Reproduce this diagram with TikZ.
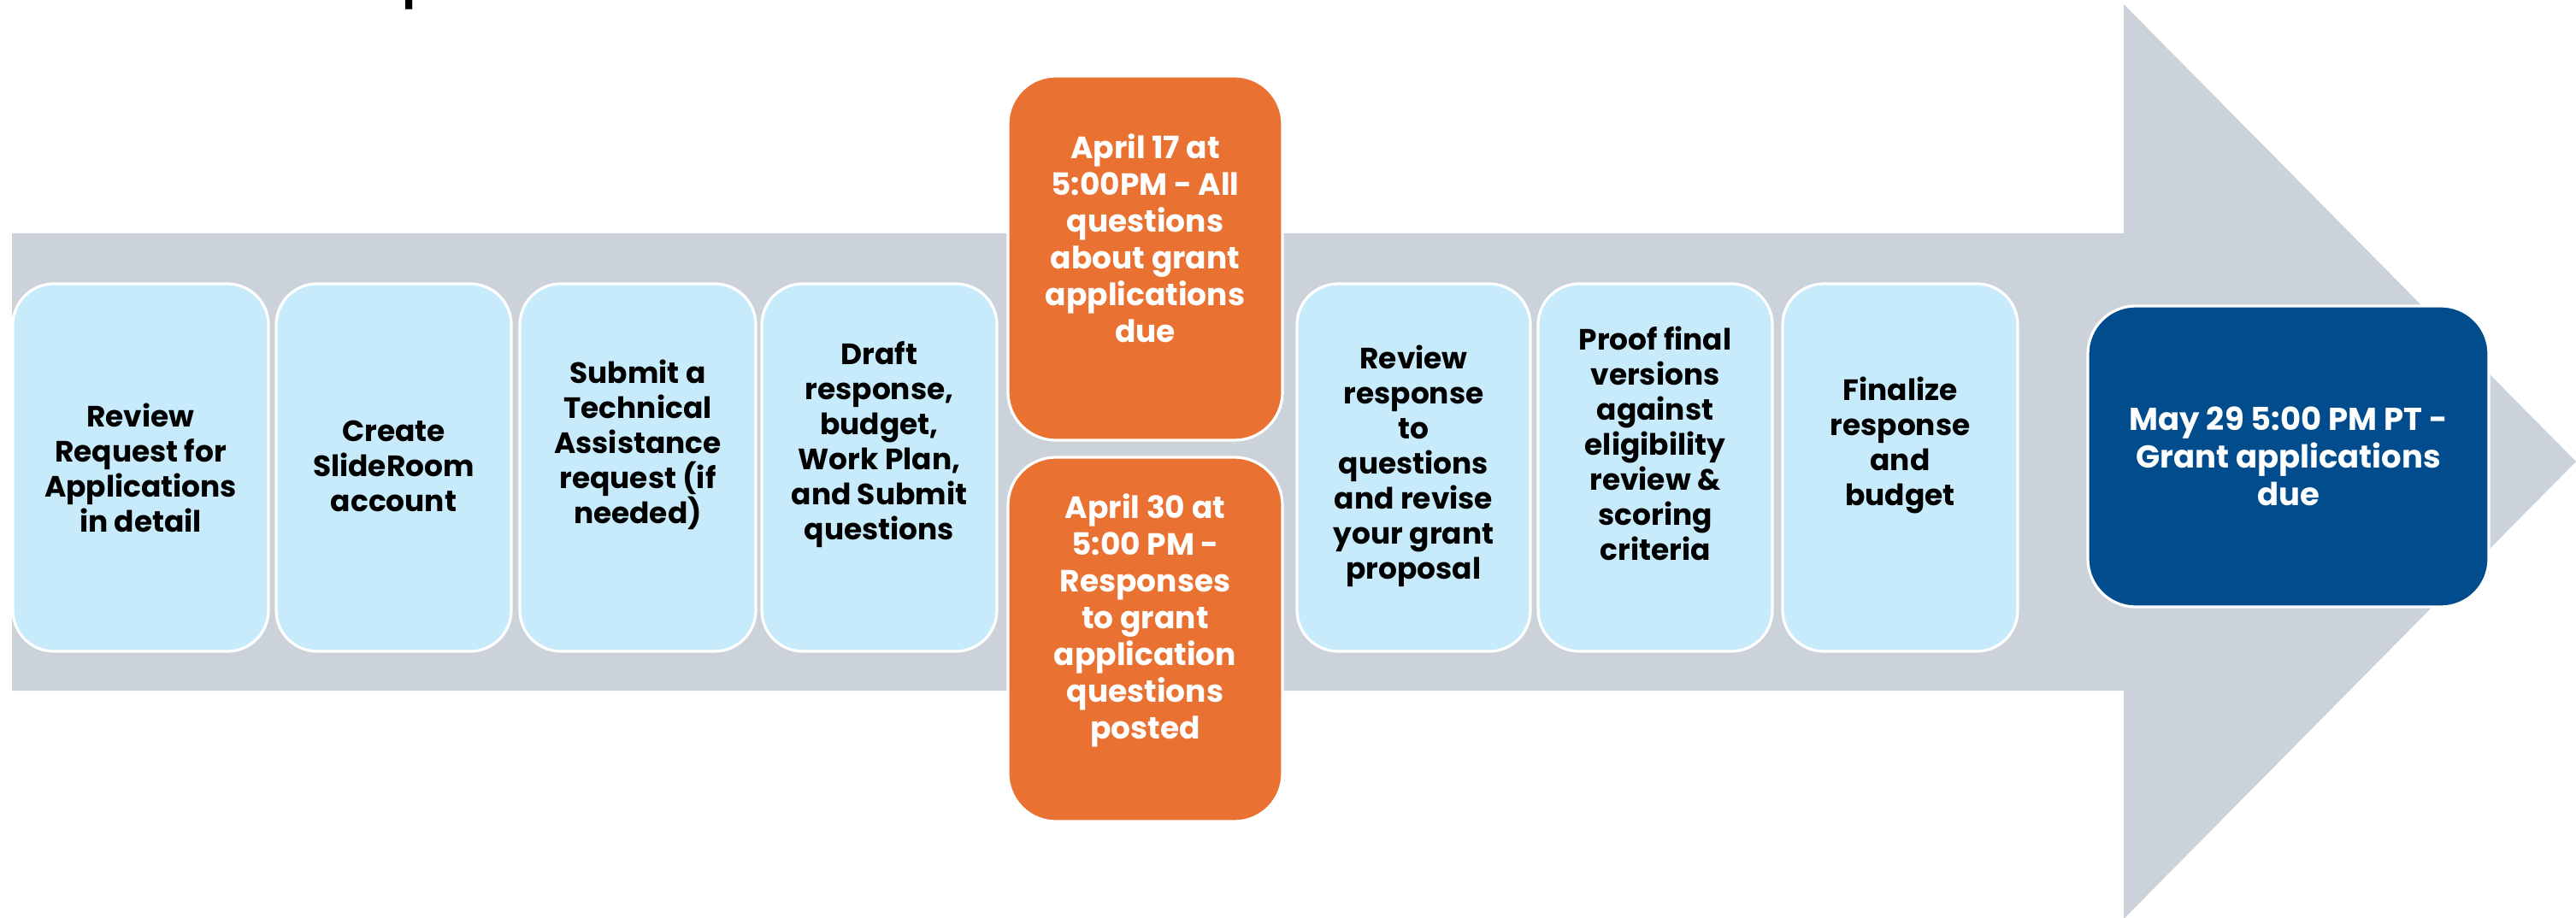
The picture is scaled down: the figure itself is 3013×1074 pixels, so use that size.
\documentclass[tikz,border=0pt]{standalone}
\usepackage{fontspec}
\setmainfont{Poppins}
\definecolor{band}{HTML}{CBD2DA}
\definecolor{lblue}{HTML}{C7EBFA}
\definecolor{orng}{HTML}{E97132}
\definecolor{navy}{HTML}{004C8C}
\begin{document}
\begin{tikzpicture}[x=0.5pt,y=-0.5pt,
  stepbox/.style={draw=white,line width=1.6pt,fill=lblue,rounded corners=24pt,minimum height=215pt,inner sep=0pt},
  datebox/.style={draw=white,line width=1.6pt,fill=orng,rounded corners=28pt,minimum width=160.5pt,minimum height=213pt,inner sep=0pt},
  duebox/.style={draw=white,line width=1.6pt,fill=navy,rounded corners=28pt,minimum width=234.5pt,minimum height=176pt,inner sep=0pt},
  darktxt/.style={align=center,font=\bfseries\fontsize{17.2}{20.5}\selectfont,text=black,inner sep=0pt},
  lighttxt/.style={align=center,font=\bfseries\fontsize{18}{21.5}\selectfont,text=white,inner sep=0pt},
  duetxt/.style={align=center,font=\bfseries\fontsize{18.5}{22}\selectfont,text=white,inner sep=0pt}]
\useasboundingbox (0,0) rectangle (3013,1074);
% big arrow
\fill[band] (14,273) -- (2484,273) -- (2484,5) -- (3013,540) -- (2484,1075) -- (2484,808) -- (14,808) -- cycle;
% cut-off title fragment
\node[anchor=base west,inner sep=0pt,font=\bfseries\fontsize{24}{28}\selectfont] (title) at (471,-1) {p};
% step boxes
\node[stepbox,minimum width=149.5pt] (b1) at (164.5,547) {};
\node[stepbox,minimum width=137.5pt] (b2) at (460.5,547) {};
\node[stepbox,minimum width=138pt] (b3) at (746,547) {};
\node[stepbox,minimum width=137.5pt] (b4) at (1028.5,547) {};
\node[datebox] (o1) at (1339.5,302) {};
\node[datebox] (o2) at (1339.5,748) {};
\node[stepbox,minimum width=136.5pt] (b5) at (1653.5,547) {};
\node[stepbox,minimum width=137pt] (b6) at (1936,547) {};
\node[stepbox,minimum width=137.5pt] (b7) at (2222.5,547) {};
\node[duebox] (n1) at (2676.5,534) {};
% texts
\node[darktxt] (t1) at (164.5,547) {Review\\Request for\\Applications\\in detail};
\node[darktxt] (t2) at (460.5,545) {Create\\SlideRoom\\account};
\node[darktxt] (t3) at (746,520) {Submit a\\Technical\\Assistance\\request (if\\needed)};
\node[darktxt] (t4) at (1028.5,520) {Draft\\response,\\budget,\\Work Plan,\\and Submit\\questions};
\node[lighttxt] (to1) at (1339.5,279) {April 17 at\\5:00PM - All\\questions\\about grant\\applications\\due};
\node[lighttxt] (to2) at (1339.5,726) {April 30 at\\5:00 PM -\\Responses\\to grant\\application\\questions\\posted};
\node[darktxt] (t5) at (1653.5,545) {Review\\response\\to\\questions\\and revise\\your grant\\proposal};
\node[darktxt] (t6) at (1936,519) {Proof final\\versions\\against\\eligibility\\review \&\\scoring\\criteria};
\node[darktxt] (t7) at (2222.5,521) {Finalize\\response\\and\\budget};
\node[duetxt] (tn) at (2676.5,534) {May 29 5:00 PM PT -\\Grant applications\\due};
\end{tikzpicture}
\end{document}
